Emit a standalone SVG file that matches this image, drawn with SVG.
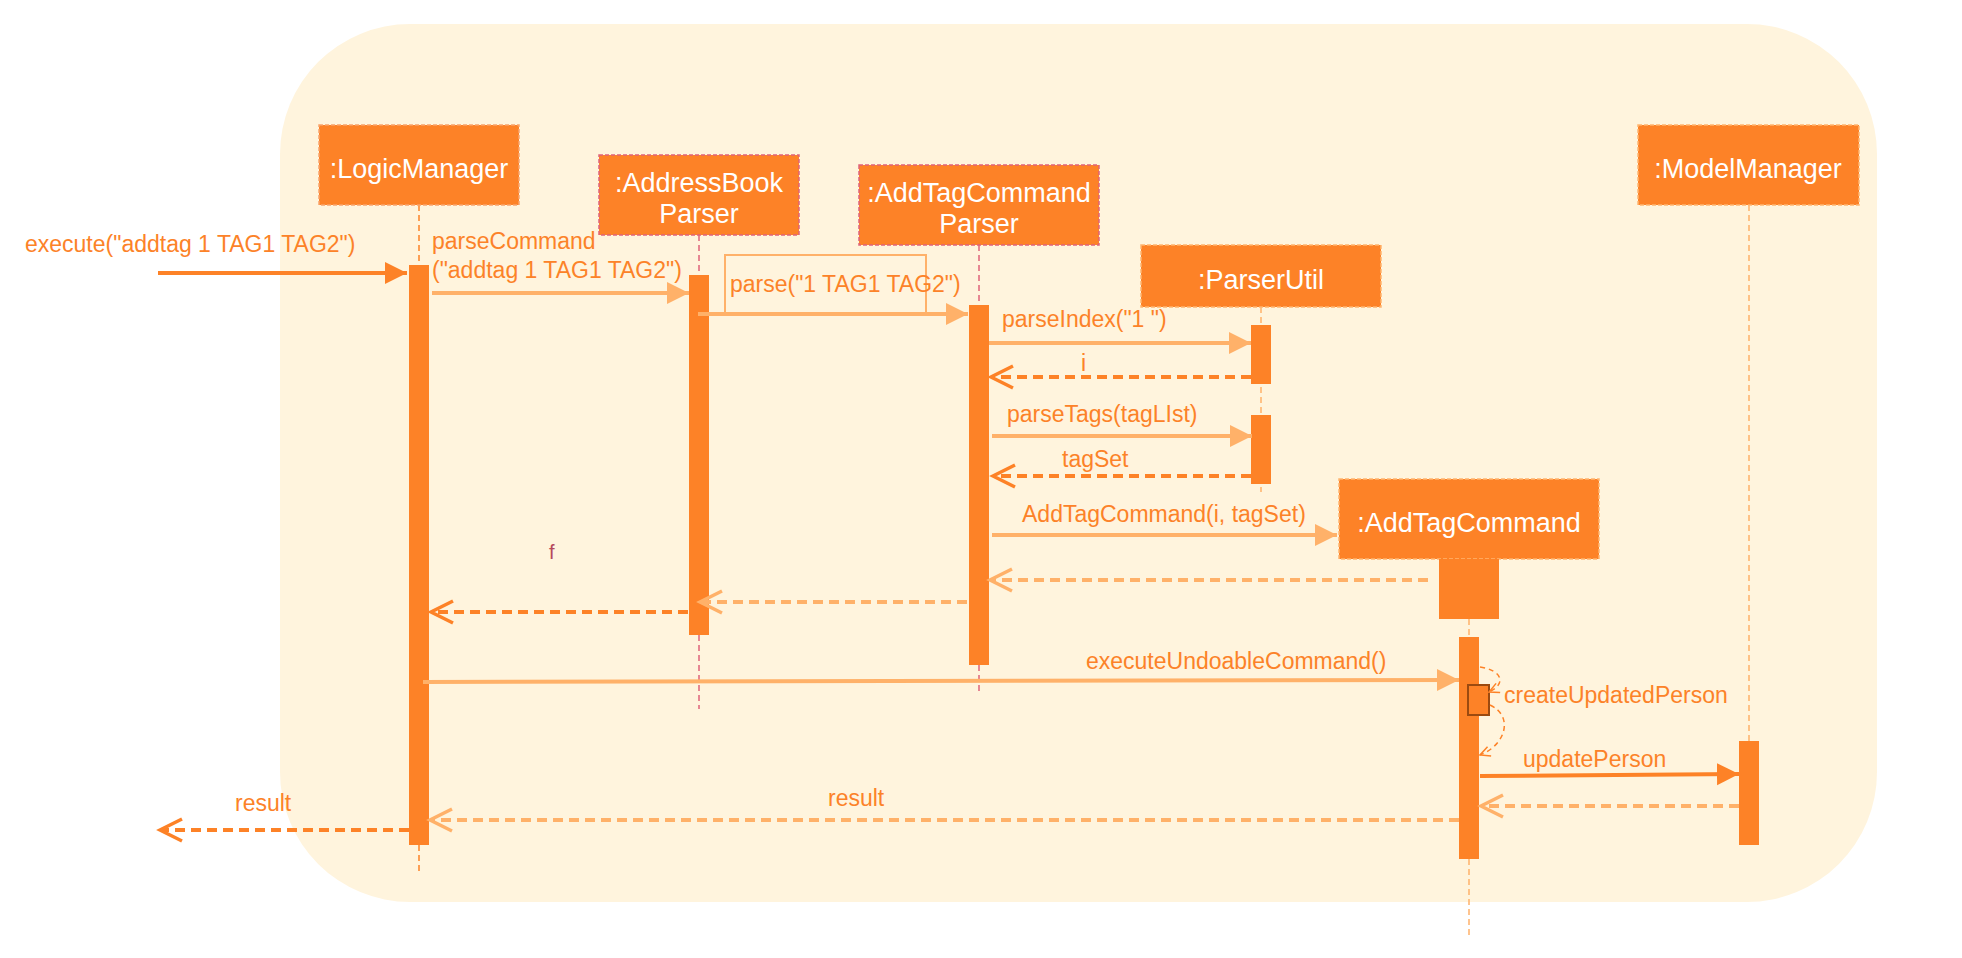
<svg xmlns="http://www.w3.org/2000/svg" width="1962" height="958" viewBox="0 0 1962 958">
<style>
.lbl{font-family:"Liberation Sans",Arial,sans-serif;font-size:23px;fill:#fc8228}
.box{font-family:"Liberation Sans",Arial,sans-serif;font-size:27px;fill:#ffffff;text-anchor:middle}
.obj{fill:#fd8227;stroke-width:1.5;stroke-dasharray:4 2}
.act{fill:#fd8227}
.life{fill:none;stroke-width:1.5;stroke-dasharray:6 4}
.msgD{fill:none;stroke:#fd8227;stroke-width:4}
.msgL{fill:none;stroke:#ffb169;stroke-width:4}
.dash{stroke-dasharray:10 6}
</style>
<defs>
<marker id="fD" markerUnits="userSpaceOnUse" markerWidth="24" markerHeight="24" refX="22" refY="11" orient="auto"><path d="M0,0 L22,11 L0,22 z" fill="#fd8227"/></marker>
<marker id="fL" markerUnits="userSpaceOnUse" markerWidth="24" markerHeight="24" refX="22" refY="11" orient="auto"><path d="M0,0 L22,11 L0,22 z" fill="#ffb169"/></marker>
<marker id="oD" markerUnits="userSpaceOnUse" markerWidth="28" markerHeight="28" refX="24" refY="13" orient="auto"><path d="M2,2 L24,13 L2,24" fill="none" stroke="#fd8227" stroke-width="3.5" stroke-dasharray="none"/></marker>
<marker id="oL" markerUnits="userSpaceOnUse" markerWidth="28" markerHeight="28" refX="24" refY="13" orient="auto"><path d="M2,2 L24,13 L2,24" fill="none" stroke="#ffb169" stroke-width="3.5" stroke-dasharray="none"/></marker>
<marker id="sD" markerUnits="userSpaceOnUse" markerWidth="14" markerHeight="14" refX="11" refY="6" orient="auto"><path d="M1,1 L11,6 L1,11" fill="none" stroke="#fd8227" stroke-width="1.5"/></marker>
</defs>

<rect id="frame" x="280" y="24" width="1597" height="878" rx="130" ry="130" fill="#fff4dd"/>

<g id="lifelines">
<path class="life" stroke="#fd8227" d="M419,205 V265 M419,845 V871"/>
<path class="life" stroke="#e0637a" d="M699,235 V709"/>
<path class="life" stroke="#e0637a" d="M979,245 V694"/>
<path class="life" stroke="#ffb169" d="M1261,307 V492"/>
<path class="life" stroke="#ffb169" d="M1469,619 V937"/>
<path class="life" stroke="#ffb169" d="M1749,205 V741"/>
</g>

<g id="LogicManager">
<rect class="obj" stroke="#f9a46c" x="319" y="125" width="200" height="80"/>
<text class="box" x="419" y="178">:LogicManager</text>
<rect class="act" x="409" y="265" width="20" height="580"/>
</g>

<g id="AddressBookParser">
<rect class="obj" stroke="#e0637a" x="599" y="155" width="200" height="80"/>
<text class="box" x="699" y="192">:AddressBook</text>
<text class="box" x="699" y="223">Parser</text>
<rect class="act" x="689" y="275" width="20" height="360"/>
</g>

<g id="AddTagCommandParser">
<rect class="obj" stroke="#e0637a" x="859" y="165" width="240" height="80"/>
<text class="box" x="979" y="202">:AddTagCommand</text>
<text class="box" x="979" y="233">Parser</text>
<rect class="act" x="969" y="305" width="20" height="360"/>
</g>

<g id="ParserUtil">
<rect class="obj" stroke="#ffb570" x="1141" y="245" width="240" height="62"/>
<text class="box" x="1261" y="289">:ParserUtil</text>
<rect class="act" x="1251" y="325" width="20" height="59"/>
<rect class="act" x="1251" y="415" width="20" height="69"/>
</g>

<g id="AddTagCommand">
<rect class="obj" stroke="#ffb570" x="1339" y="479" width="260" height="80"/>
<text class="box" x="1469" y="532">:AddTagCommand</text>
<rect class="act" x="1439" y="559" width="60" height="60"/>
<rect class="act" x="1459" y="637" width="20" height="222"/>
<rect x="1468" y="685" width="21" height="30" fill="#fd8227" stroke="#9b4a10" stroke-width="2"/>
</g>

<g id="ModelManager">
<rect class="obj" stroke="#ffb570" x="1638" y="125" width="221" height="80"/>
<text class="box" x="1748" y="178">:ModelManager</text>
<rect class="act" x="1739" y="741" width="20" height="104"/>
</g>

<g id="connectors">
<path class="msgD" d="M158,273 H407" marker-end="url(#fD)"/>
<path class="msgL" d="M432,293 H689" marker-end="url(#fL)"/>
<rect x="725" y="255" width="201" height="58" fill="none" stroke="#ffb169" stroke-width="2"/>
<path class="msgL" d="M698,314 H968" marker-end="url(#fL)"/>
<path class="msgL" d="M989,343 H1251" marker-end="url(#fL)"/>
<path class="msgD dash" d="M1251,377 H991" marker-end="url(#oD)"/>
<path class="msgL" d="M992,436 H1252" marker-end="url(#fL)"/>
<path class="msgD dash" d="M1251,476 H993" marker-end="url(#oD)"/>
<path class="msgL" d="M992,535 H1337" marker-end="url(#fL)"/>
<path class="msgL dash" d="M1428,580 H990" marker-end="url(#oL)"/>
<path class="msgL dash" d="M967,602 H700" marker-end="url(#oL)"/>
<path class="msgD dash" d="M688,612 H431" marker-end="url(#oD)"/>
<path class="msgL" d="M423,682 L1459,680" marker-end="url(#fL)"/>
<path fill="none" stroke="#fd8227" stroke-width="1.5" stroke-dasharray="5 4" d="M1480,667 C1502,670 1507,684 1489,692" marker-end="url(#sD)"/>
<path fill="none" stroke="#fd8227" stroke-width="1.5" stroke-dasharray="5 4" d="M1490,705 C1514,716 1506,745 1480,755" marker-end="url(#sD)"/>
<path class="msgD" d="M1480,776 L1739,774" marker-end="url(#fD)"/>
<path class="msgL dash" d="M1739,806 H1481" marker-end="url(#oL)"/>
<path class="msgL dash" d="M1459,820 H430" marker-end="url(#oL)"/>
<path class="msgD dash" d="M409,830 H160" marker-end="url(#oD)"/>
</g>

<g id="labels">
<text class="lbl" x="25" y="252">execute("addtag 1 TAG1 TAG2")</text>
<text class="lbl" x="432" y="249">parseCommand</text>
<text class="lbl" x="432" y="278">("addtag 1 TAG1 TAG2")</text>
<text class="lbl" x="730" y="292">parse("1 TAG1 TAG2")</text>
<text class="lbl" x="1002" y="327">parseIndex("1 ")</text>
<text class="lbl" x="1081" y="371">i</text>
<text class="lbl" x="1007" y="422">parseTags(tagLIst)</text>
<text class="lbl" x="1062" y="467">tagSet</text>
<text class="lbl" x="1022" y="522">AddTagCommand(i, tagSet)</text>
<text x="549" y="559" style="font-family:'Liberation Sans',Arial,sans-serif;font-size:20px;fill:#b5495b">f</text>
<text class="lbl" x="1086" y="669">executeUndoableCommand()</text>
<text class="lbl" x="1504" y="703">createUpdatedPerson</text>
<text class="lbl" x="1523" y="767">updatePerson</text>
<text class="lbl" x="828" y="806">result</text>
<text class="lbl" x="235" y="811">result</text>
</g>
</svg>
